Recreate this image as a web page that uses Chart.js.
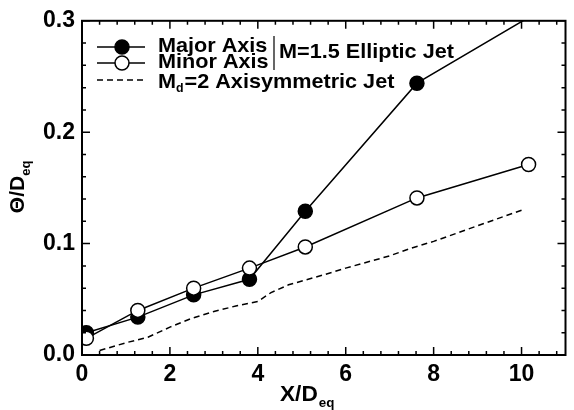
<!DOCTYPE html>
<html>
<head>
<meta charset="utf-8">
<script src="https://cdn.jsdelivr.net/npm/chart.js@4/dist/chart.umd.min.js"></script>
<style>
  html, body { margin: 0; padding: 0; background: #fff; }
  #wrap { width: 574px; height: 410px; }
</style>
</head>
<body>
<div id="wrap"><canvas id="chart" width="574" height="410"></canvas></div>
<script>
// axis ranges and ticks
const X_MAX = 11;
const Y_MAX = 0.3;
const xTicks = [0, 2, 4, 6, 8, 10];
const yTicks = [0.0, 0.1, 0.2, 0.3];

// M=1.5 elliptic jet, major and minor axis
const stationX = [0.1, 1.27, 2.54, 3.81, 5.08, 7.62, 10.16];
const majorY = [0.020, 0.034, 0.054, 0.068, 0.129, 0.244, 0.303];
const minorY = [0.015, 0.040, 0.060, 0.078, 0.097, 0.141, 0.171];

// Md=2 axisymmetric jet (dashed)
const axiX = [0.4, 1.0, 1.5, 2.0, 2.5, 3.0, 3.5, 4.0, 4.3, 4.7, 5.5, 6.0, 7.0, 7.5, 8.0, 9.0, 10.0];
const axiY = [0.004, 0.011, 0.016, 0.025, 0.033, 0.039, 0.044, 0.048, 0.056, 0.063, 0.072, 0.078, 0.089, 0.096, 0.102, 0.116, 0.130];

const legendLabels = ['Major Axis', 'Minor Axis'];
const legendGroup = 'M=1.5 Elliptic Jet';
const legendAxi = ['M', 'd', '=2 Axisymmetric Jet'];
const xTitle = ['X/D', 'eq'];
const yTitle = ['\u0398/D', 'eq'];

const FONT = '"Liberation Sans", Arial, sans-serif';
const pts = (xs, ys) => xs.map((x, i) => ({ x: x, y: ys[i] }));

// frame, inward ticks, legend and axis titles
const decor = {
  id: 'decor',
  afterDraw(chart) {
    const ctx = chart.ctx;
    const a = chart.chartArea;
    const xs = chart.scales.x, ys = chart.scales.y;
    ctx.save();
    ctx.strokeStyle = '#000';
    ctx.lineWidth = 2;
    ctx.strokeRect(a.left, a.top, a.right - a.left, a.bottom - a.top);

    ctx.lineWidth = 1.5;
    ctx.beginPath();
    for (let i = 0; i * 0.4 <= X_MAX + 1e-9; i++) {
      const v = i * 0.4;
      const len = (i % 5 === 0) ? 8 : 4;
      const px = xs.getPixelForValue(v);
      ctx.moveTo(px, a.bottom); ctx.lineTo(px, a.bottom - len);
      ctx.moveTo(px, a.top); ctx.lineTo(px, a.top + len);
    }
    for (let i = 0; i * 0.02 <= Y_MAX + 1e-9; i++) {
      const v = i * 0.02;
      const len = (i % 5 === 0) ? 8 : 4;
      const py = ys.getPixelForValue(v);
      ctx.moveTo(a.left, py); ctx.lineTo(a.left + len, py);
      ctx.moveTo(a.right, py); ctx.lineTo(a.right - len, py);
    }
    ctx.stroke();

    // legend
    const lx0 = 97, lx1 = 145, mx = 122;
    const rows = [47, 63];
    ctx.lineWidth = 1.5;
    rows.forEach((ry, i) => {
      ctx.setLineDash([]);
      ctx.beginPath(); ctx.moveTo(lx0, ry); ctx.lineTo(lx1, ry); ctx.stroke();
      ctx.beginPath(); ctx.arc(mx, ry, 7, 0, Math.PI * 2);
      ctx.fillStyle = i === 0 ? '#000' : '#fff';
      ctx.fill(); ctx.stroke();
    });
    ctx.setLineDash([6, 4]);
    ctx.beginPath(); ctx.moveTo(lx0, 80); ctx.lineTo(lx1, 80); ctx.stroke();
    ctx.setLineDash([]);

    const txt = (s, x, y, size) => {
      ctx.save();
      ctx.translate(x, y);
      ctx.scale(1.03, 1);
      ctx.font = 'bold ' + size + 'px ' + FONT;
      ctx.fillStyle = '#000';
      ctx.textBaseline = 'alphabetic';
      ctx.fillText(s, 0, 0);
      const w = ctx.measureText(s).width * 1.03;
      ctx.restore();
      return w;
    };
    txt(legendLabels[0], 158, 52, 21);
    txt(legendLabels[1], 158, 68, 21);
    ctx.lineWidth = 1.2;
    ctx.beginPath(); ctx.moveTo(274, 36); ctx.lineTo(274, 70); ctx.stroke();
    txt(legendGroup, 279, 58, 21);
    const w = txt(legendAxi[0], 158, 88, 21);
    const w2 = txt(legendAxi[1], 158 + w, 92, 12);
    txt(legendAxi[2], 158 + w + w2 + 1, 88, 21);

    // x title
    const tw = txt(xTitle[0], 280, 401, 22);
    txt(xTitle[1], 280 + tw + 1, 407, 13);

    // y title
    ctx.save();
    ctx.translate(24, (a.top + a.bottom) / 2 - 1);
    ctx.rotate(-Math.PI / 2);
    ctx.fillStyle = '#000';
    ctx.font = 'bold 21px ' + FONT;
    const yw = ctx.measureText(yTitle[0]).width;
    ctx.font = 'bold 13px ' + FONT;
    const ysw = ctx.measureText(yTitle[1]).width;
    const y0 = -(yw + ysw) / 2;
    ctx.font = 'bold 21px ' + FONT;
    ctx.fillText(yTitle[0], y0, 0);
    ctx.font = 'bold 13px ' + FONT;
    ctx.fillText(yTitle[1], y0 + yw, 6);
    ctx.restore();

    ctx.restore();
  }
};

new Chart(document.getElementById('chart').getContext('2d'), {
  type: 'line',
  data: {
    datasets: [
      {
        label: 'Minor Axis',
        data: pts(stationX, minorY),
        borderColor: '#000',
        borderWidth: 1.5,
        backgroundColor: '#fff',
        pointBackgroundColor: '#fff',
        pointBorderColor: '#000',
        pointBorderWidth: 1.5,
        pointRadius: 7,
        order: 0,
        clip: 0
      },
      {
        label: 'Major Axis',
        data: pts(stationX, majorY),
        borderColor: '#000',
        borderWidth: 1.5,
        backgroundColor: '#000',
        pointBackgroundColor: '#000',
        pointBorderColor: '#000',
        pointRadius: ctx => (ctx.raw && ctx.raw.y > Y_MAX) ? 0 : 7,
        order: 1,
        clip: 0
      },
      {
        label: 'Md=2 Axisymmetric Jet',
        data: pts(axiX, axiY),
        borderColor: '#000',
        borderWidth: 1.5,
        borderDash: [6, 4],
        pointRadius: 0,
        order: 2,
        clip: 0
      }
    ]
  },
  options: {
    responsive: false,
    animation: false,
    layout: { padding: { top: 20, right: 3, left: 0, bottom: 0 } },
    plugins: { legend: { display: false }, tooltip: { enabled: false } },
    elements: { line: { tension: 0 } },
    scales: {
      x: {
        type: 'linear',
        min: 0,
        max: X_MAX,
        afterBuildTicks: s => { s.ticks = xTicks.map(v => ({ value: v })); },
        afterFit: s => { s.height = 55; },
        grid: { display: false, drawTicks: false },
        border: { display: false },
        ticks: {
          padding: 6,
          color: '#000',
          font: { family: FONT, size: 23, weight: 'bold' },
          maxRotation: 0
        }
      },
      y: {
        type: 'linear',
        min: 0,
        max: Y_MAX,
        afterBuildTicks: s => { s.ticks = yTicks.map(v => ({ value: v })); },
        afterFit: s => { s.width = 82; },
        grid: { display: false, drawTicks: false },
        border: { display: false },
        ticks: {
          padding: 7,
          color: '#000',
          font: { family: FONT, size: 23, weight: 'bold' },
          callback: v => Number(v).toFixed(1)
        }
      }
    }
  },
  plugins: [decor]
});
</script>
</body>
</html>
